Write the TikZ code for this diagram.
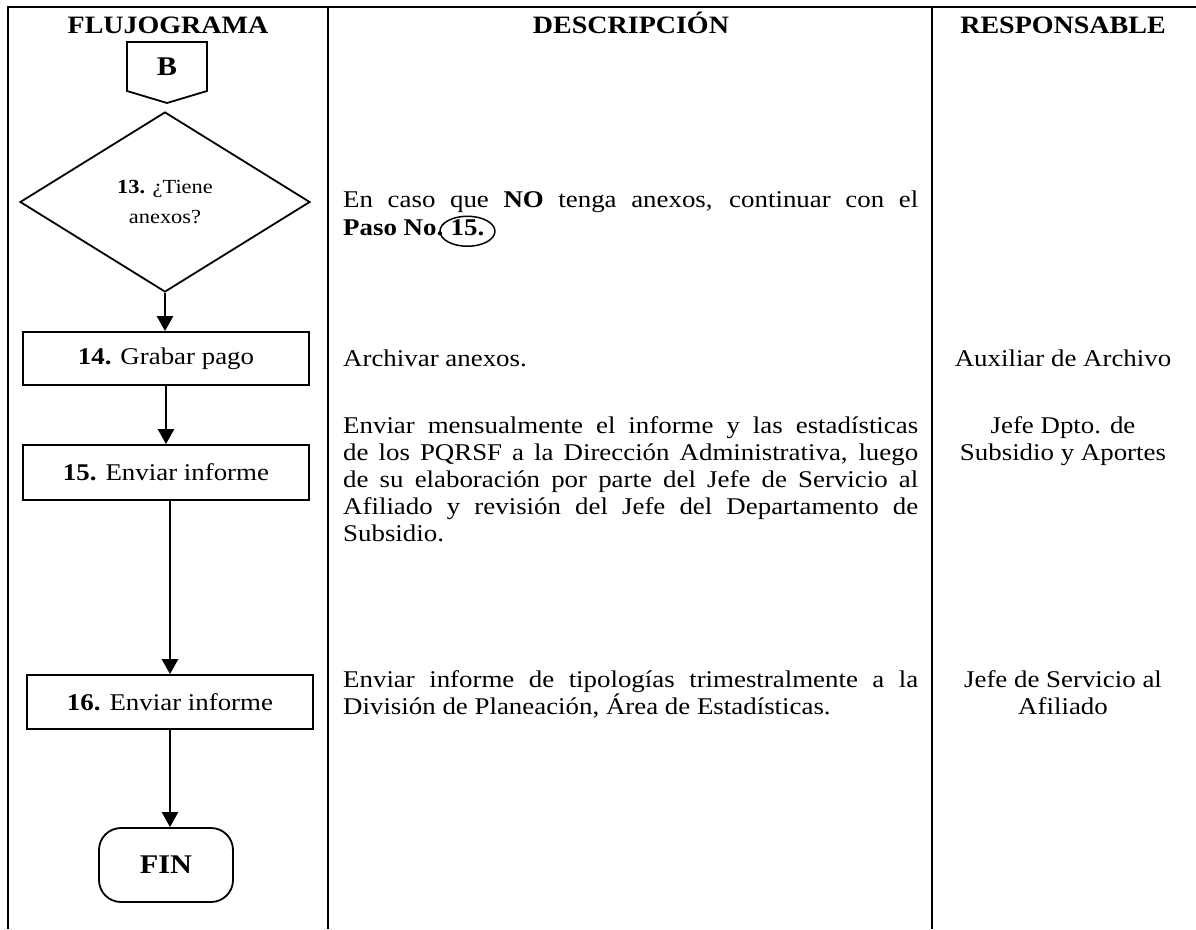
\documentclass[tikz,border=0pt]{standalone}
\usepackage{fontspec}
\setmainfont{Liberation Serif}[FakeStretch=1.12]
\usetikzlibrary{shapes.geometric,arrows.meta,calc}
\newcommand\bodyf{\fontsize{24pt}{27pt}\selectfont}
\newcommand\hdrf{\fontsize{25pt}{27pt}\selectfont\bfseries}
\newcommand\dmf{\fontsize{20pt}{30pt}\selectfont}
\newcommand\bigbf{\fontsize{27pt}{30pt}\selectfont\bfseries}
\newcommand\J[1]{\makebox[575pt][s]{#1}}
\begin{document}
\begin{tikzpicture}[x=1pt,y=-1pt,
  border/.style={line width=2.6pt},
  outline/.style={draw,line width=1.8pt},
  stepbox/.style={outline,minimum width=286pt,inner sep=0pt,font=\bodyf},
  arr/.style={line width=2.5pt,-{Triangle[length=15pt,width=16pt]}},
  hdr/.style={anchor=base,inner sep=0pt,font=\hdrf},
  desc/.style={anchor=base west,inner sep=0pt,font=\bodyf},
  resp/.style={anchor=base,inner sep=0pt,font=\bodyf}]
\useasboundingbox (0,0) rectangle (1196,929);
% table lines
\draw[border] (8,929) -- (8,7) -- (1196,7);
\draw[border] (328,7) -- (328,929);
\draw[border] (932,7) -- (932,929);
% headers
\node[hdr] (h1) at (168,33) {FLUJOGRAMA};
\node[hdr] (h2) at (631,33) {DESCRIPCIÓN};
\node[hdr] (h3) at (1063,33) {RESPONSABLE};
% off-page connector B
\draw[line width=1.8pt] (127,42) -- (207,42) -- (207,91) -- (167,103) -- (127,91) -- cycle;
\node[font=\bigbf,inner sep=0pt] (B) at (167,67) {B};
% decision
\node[diamond,outline,minimum width=290pt,minimum height=180pt,inner sep=0pt,
      align=center,font=\dmf] (d13) at (165,202) {\textbf{13.} ¿Tiene\\anexos?};
% process boxes
\node[stepbox,minimum height=53pt] (b14) at (166,358.5) {\textbf{14.} Grabar pago};
\node[stepbox,minimum height=55pt] (b15) at (166,472.5) {\textbf{15.} Enviar informe};
\node[stepbox,minimum height=54pt] (b16) at (170,702) {\textbf{16.} Enviar informe};
\node[outline,rounded corners=22pt,minimum width=134pt,minimum height=74pt,
      inner sep=0pt,font=\bigbf] (fin) at (166,865) {FIN};
% connectors
\draw[arr] (d13.south) -- (d13.south |- b14.north);
\draw[arr] (b14.south) -- (b14.south |- b15.north);
\draw[arr] (b15.south -| b16.north) -- (b16.north);
\draw[arr] (b16.south) -- (b16.south |- fin.north);
% descriptions
\node[desc] (t13a) at (343,207) {\J{En caso que \textbf{NO} tenga anexos, continuar con el}};
\node[desc] (t13b) at (343,235) {\textbf{Paso No.}};
\node[desc,font=\bodyf\bfseries] (t13c) at ($(t13b.base east)+(7,0)$) {15.};
\node[draw,ellipse,line width=1.5pt,minimum width=55pt,minimum height=30pt,inner sep=0pt]
      (c15) at ($(t13c.center)+(0,4)$) {};
\node[desc] (t14) at (343,366) {Archivar anexos.};
\node[desc] (t15a) at (343,433) {\J{Enviar mensualmente el informe y las estadísticas}};
\node[desc] (t15b) at (343,460) {\J{de los PQRSF a la Dirección Administrativa, luego}};
\node[desc] (t15c) at (343,487) {\J{de su elaboración por parte del Jefe de Servicio al}};
\node[desc] (t15d) at (343,514) {\J{Afiliado y revisión del Jefe del Departamento de}};
\node[desc] (t15e) at (343,541) {Subsidio.};
\node[desc] (t16a) at (343,687) {\J{Enviar informe de tipologías trimestralmente a la}};
\node[desc] (t16b) at (343,714) {División de Planeación, Área de Estadísticas.};
% responsables
\node[resp] (r14) at (1063,366) {Auxiliar de Archivo};
\node[resp] (r15a) at (1063,433) {Jefe Dpto. de};
\node[resp] (r15b) at (1063,460) {Subsidio y Aportes};
\node[resp] (r16a) at (1063,687) {Jefe de Servicio al};
\node[resp] (r16b) at (1063,714) {Afiliado};
\end{tikzpicture}
\end{document}
